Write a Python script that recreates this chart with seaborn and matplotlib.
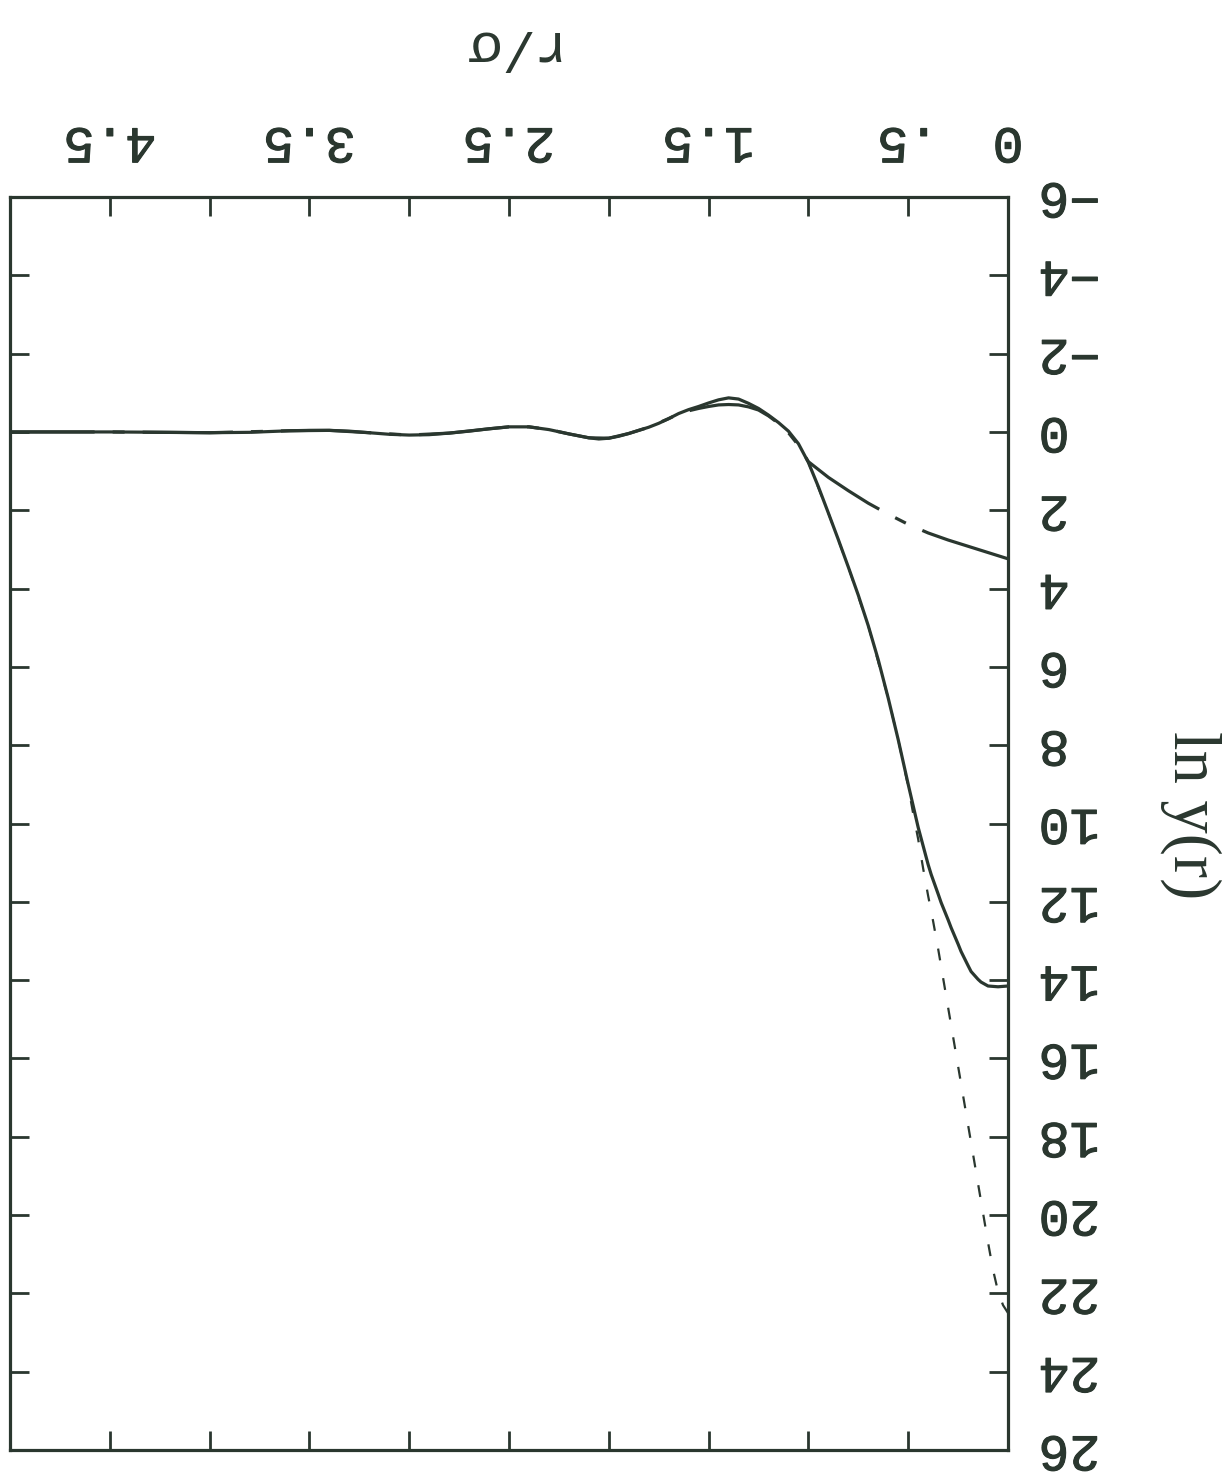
import matplotlib
matplotlib.use("Agg")
import matplotlib.pyplot as plt
import matplotlib.patheffects as pe
import seaborn as sns
from matplotlib.ticker import FixedLocator, FixedFormatter

# ---- data: ln y(r) against r/sigma -------------------------------------
solid_r = [0.0, 0.05, 0.1, 0.135, 0.15, 0.185, 0.2, 0.235, 0.25, 0.285, 0.3,
           0.335, 0.35, 0.385, 0.4, 0.45, 0.5, 0.55, 0.6, 0.65, 0.7, 0.75,
           0.8, 0.85, 0.9, 0.95, 1.0, 1.05, 1.1, 1.15, 1.2, 1.25, 1.3, 1.35,
           1.4, 1.45, 1.5, 1.55, 1.6, 1.65, 1.7, 1.75, 1.8, 1.85, 1.9, 1.95,
           2.0, 2.05, 2.1, 2.2, 2.3, 2.4, 2.5, 2.6, 2.7, 2.8, 2.9, 3.0, 3.1,
           3.2, 3.3, 3.4, 3.5, 3.6, 3.8, 4.0, 4.2, 4.5, 5.0]
solid_lny = [14.15, 14.17, 14.15, 14.05, 13.98, 13.78, 13.63, 13.27, 13.08,
             12.66, 12.46, 12.02, 11.8, 11.3, 11.05, 10.1, 9.0, 7.86, 6.8,
             5.82, 4.95, 4.17, 3.45, 2.75, 2.07, 1.4, 0.78, 0.3, -0.02, -0.24,
             -0.43, -0.6, -0.73, -0.84, -0.87, -0.82, -0.74, -0.65, -0.57,
             -0.47, -0.34, -0.22, -0.12, -0.04, 0.04, 0.11, 0.16, 0.18, 0.15,
             0.05, -0.06, -0.13, -0.13, -0.08, -0.02, 0.03, 0.07, 0.08, 0.06,
             0.02, -0.02, -0.04, -0.04, -0.03, 0.01, 0.02, 0.01, 0.0, 0.0]

dashdot_r = [0.0, 0.1, 0.2, 0.3, 0.4, 0.5, 0.6, 0.7, 0.8, 0.9, 1.0, 1.05,
             1.1, 1.15, 1.2, 1.25, 1.3, 1.35, 1.4, 1.45, 1.5, 1.55, 1.6,
             1.65, 1.7, 1.8, 1.9, 2.0, 2.1, 2.2, 2.3, 2.4, 2.5, 2.6, 2.8,
             3.0, 3.2, 3.4, 3.6, 4.0, 4.5, 5.0]
dashdot_lny = [3.24, 3.08, 2.92, 2.76, 2.58, 2.36, 2.1, 1.82, 1.5, 1.16,
               0.76, 0.34, 0.02, -0.22, -0.41, -0.56, -0.64, -0.69, -0.7,
               -0.69, -0.65, -0.6, -0.54, -0.46, -0.34, -0.12, 0.04, 0.16,
               0.15, 0.05, -0.06, -0.13, -0.13, -0.08, 0.03, 0.08, 0.02,
               -0.04, -0.03, 0.02, 0.0, 0.0]

dashed_r = [0.0, 0.025, 0.05, 0.075, 0.1, 0.125, 0.15, 0.175, 0.2, 0.225,
            0.25, 0.275, 0.3, 0.325, 0.35, 0.375, 0.4, 0.425, 0.45, 0.475,
            0.5, 0.55, 0.6, 0.7, 0.8, 0.9, 1.0]
dashed_lny = [22.5, 22.3, 21.95, 21.4, 20.7, 19.95, 19.2, 18.45, 17.7, 16.95,
              16.2, 15.45, 14.7, 13.95, 13.2, 12.5, 11.85, 11.15, 10.4, 9.75,
              9.05, 7.86, 6.8, 4.95, 3.45, 2.07, 0.78]

x_ticks = [0.0, 0.5, 1.0, 1.5, 2.0, 2.5, 3.0, 3.5, 4.0, 4.5, 5.0]
x_tick_labels = ["0", ".5", "", "1.5", "", "2.5", "", "3.5", "", "4.5", ""]
y_ticks = [-6, -4, -2, 0, 2, 4, 6, 8, 10, 12, 14, 16, 18, 20, 22, 24, 26]
y_tick_labels = ["\u22126", "\u22124", "\u22122", "0", "2", "4", "6", "8",
                 "10", "12", "14", "16", "18", "20", "22", "24", "26"]

INK = "#2a372f"

sns.set_theme(style="white")
plt.rcParams["font.family"] = ["Liberation Mono", "DejaVu Sans Mono"]
plt.rcParams["lines.scale_dashes"] = False

fig = plt.figure(figsize=(12.31, 14.83), dpi=100)
fig.patch.set_facecolor("white")
ax = fig.add_axes([10 / 1231, 1 - 1450 / 1483, 998 / 1231, 1253 / 1483])
ax.set_facecolor("white")

sns.lineplot(x=dashdot_r, y=dashdot_lny, ax=ax, color=INK, linewidth=2.3,
             linestyle=(0, (65, 13, 8.6, 13)), estimator=None, sort=False)
sns.lineplot(x=dashed_r, y=dashed_lny, ax=ax, color=INK, linewidth=1.6,
             linestyle=(0, (8.6, 13)), estimator=None, sort=False)
sns.lineplot(x=solid_r, y=solid_lny, ax=ax, color=INK, linewidth=2.3,
             estimator=None, sort=False)

# the page is printed turned over: r runs right-to-left, ln y downward
ax.set_xlim(5, 0)
ax.set_ylim(26, -6)

ax.xaxis.set_major_locator(FixedLocator(x_ticks))
ax.xaxis.set_major_formatter(FixedFormatter(x_tick_labels))
ax.yaxis.set_major_locator(FixedLocator(y_ticks))
ax.yaxis.set_major_formatter(FixedFormatter(y_tick_labels))

ax.tick_params(axis="x", top=True, bottom=True, labeltop=True,
               labelbottom=False, direction="in", length=14, width=2,
               color=INK, labelcolor=INK, labelsize=37, pad=22,
               labelrotation=180)
ax.tick_params(axis="y", left=True, right=True, labelright=True,
               labelleft=False, direction="in", length=14, width=2,
               color=INK, labelcolor=INK, labelsize=37, pad=22,
               labelrotation=180)

# slightly heavier strokes for the typewriter digits
thick = [pe.withStroke(linewidth=0.8, foreground=INK)]
for lab in ax.yaxis.get_majorticklabels() + ax.xaxis.get_majorticklabels():
    lab.set_path_effects(thick)
for lab in ax.yaxis.get_majorticklabels():
    lab.set_verticalalignment("center")

for sp in ax.spines.values():
    sp.set_visible(True)
    sp.set_color(INK)
    sp.set_linewidth(2.3)

ax.set_xlabel("r/\u03c3", fontsize=40, color=INK, rotation=180,
              family=["Liberation Mono", "DejaVu Sans Mono"])
ax.xaxis.set_label_position("top")
ax.xaxis.set_label_coords(0.497, 1.121)
ax.xaxis.label.set_verticalalignment("center")
ax.xaxis.label.set_horizontalalignment("center")

ax.set_ylabel("ln y(r)", fontsize=48, color=INK, rotation=270,
              family=["Liberation Serif", "DejaVu Serif"])
ax.yaxis.set_label_position("right")
ax.yaxis.set_label_coords(1.183, 0.507)
ax.yaxis.label.set_verticalalignment("center")
ax.yaxis.label.set_horizontalalignment("center")

fig.savefig("out.png", dpi=100, facecolor="white")
